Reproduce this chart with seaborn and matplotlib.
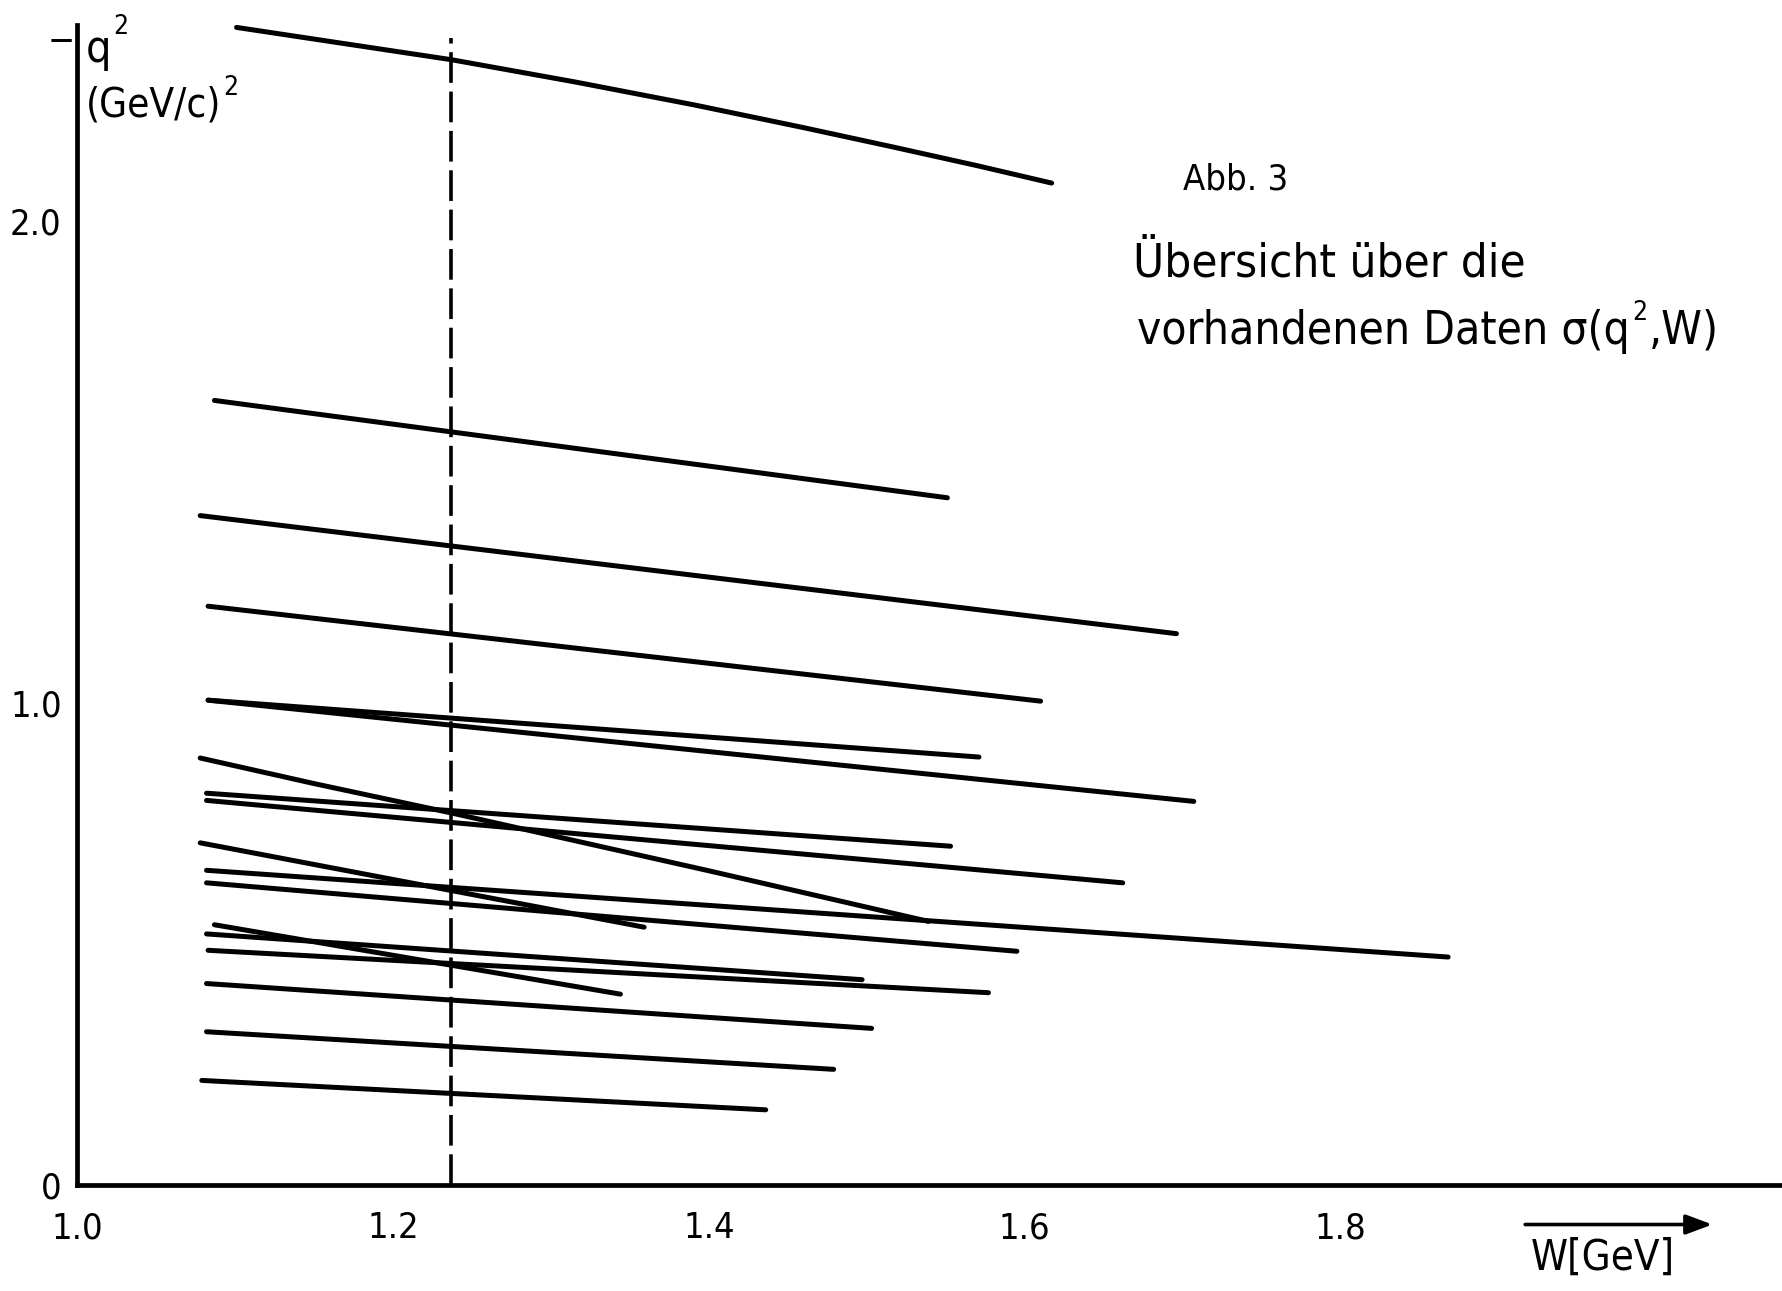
"""Abb. 3: Übersicht über die vorhandenen Daten sigma(q^2, W)"""
import numpy as np
import pandas as pd
import matplotlib
matplotlib.use("Agg")
import matplotlib.pyplot as plt
import seaborn as sns

# ---------------------------
# Daten
# ---------------------------
# gerade Messbereiche: W-Anfang/-Ende [GeV], -q^2 Anfang/Ende [(GeV/c)^2]
W_ANFANG = [1.087, 1.078, 1.083, 1.083, 1.083, 1.082, 1.082, 1.078,
            1.082, 1.082, 1.087, 1.082, 1.083, 1.082, 1.082, 1.079]
W_ENDE = [1.551, 1.696, 1.610, 1.571, 1.707, 1.553, 1.662, 1.359,
          1.868, 1.595, 1.344, 1.497, 1.577, 1.503, 1.479, 1.436]
Q2_ANFANG = [1.628, 1.389, 1.201, 1.006, 1.006, 0.813, 0.798, 0.710,
             0.653, 0.627, 0.540, 0.521, 0.487, 0.418, 0.318, 0.217]
Q2_ENDE = [1.426, 1.144, 1.004, 0.888, 0.796, 0.703, 0.627, 0.535,
           0.473, 0.485, 0.396, 0.426, 0.399, 0.325, 0.240, 0.156]

# gekrümmte Bereiche
W_OBEN = [1.101, 1.170, 1.237, 1.315, 1.391, 1.460, 1.515, 1.570, 1.617]
Q2_OBEN = [2.402, 2.368, 2.335, 2.289, 2.241, 2.194, 2.155, 2.115, 2.079]
W_STEIL = [1.078, 1.150, 1.237, 1.400, 1.539]
Q2_STEIL = [0.886, 0.833, 0.772, 0.652, 0.547]

# Delta-Resonanz (gestrichelt)
W_DELTA = 1.237
Q2_DELTA_MAX = 2.38

X_TICKS = [1.0, 1.2, 1.4, 1.6, 1.8, 2.0]
X_LABELS = ["1.0", "1.2", "1.4", "1.6", "1.8", ""]
Y_TICKS = [0.0, 1.0, 2.0]
Y_LABELS = ["0", "1.0", "2.0"]

# ---------------------------
# DataFrame aufbauen
# ---------------------------
filas = []
for i, (w0, w1, q0, q1) in enumerate(zip(W_ANFANG, W_ENDE, Q2_ANFANG, Q2_ENDE)):
    filas.append({"id": i, "W": w0, "q2": q0})
    filas.append({"id": i, "W": w1, "q2": q1})
for w, q in zip(W_OBEN, Q2_OBEN):
    filas.append({"id": 100, "W": w, "q2": q})
for w, q in zip(W_STEIL, Q2_STEIL):
    filas.append({"id": 101, "W": w, "q2": q})
df = pd.DataFrame(filas)

sns.set_style("white")
plt.rcParams['font.family'] = ['DejaVu Sans']
plt.rcParams['font.stretch'] = 'condensed'
plt.rcParams.update({"text.color": "black", "xtick.color": "black",
                     "ytick.color": "black", "axes.labelcolor": "black"})

W_PX, H_PX = 1783, 1291
fig = plt.figure(figsize=(W_PX / 100, H_PX / 100), dpi=100)
ax = fig.add_axes([77 / W_PX, 106 / H_PX, 1 - 77 / W_PX, 1160 / H_PX])

sns.lineplot(data=df, x="W", y="q2", units="id", estimator=None, sort=False,
             color="black", lw=3.6, ax=ax, legend=False)
ax.plot([W_DELTA, W_DELTA], [0, Q2_DELTA_MAX], color="black", lw=2.6,
        ls=(0, (8.5, 2.4)))

ax.set_xlim(1.0, 2.08)
ax.set_ylim(0, 2.407)
for s in ["top", "right"]:
    ax.spines[s].set_visible(False)
for s in ["left", "bottom"]:
    ax.spines[s].set_linewidth(3.4)
    ax.spines[s].set_color("black")

ax.set_xticks(X_TICKS)
ax.set_xticklabels(X_LABELS)
ax.set_yticks(Y_TICKS)
ax.set_yticklabels(Y_LABELS)
ax.tick_params(direction="out", width=2.6, labelsize=26)
ax.tick_params(axis="x", length=10, pad=9)
ax.tick_params(axis="y", length=8, pad=3)
ax.set_xlabel("")
ax.set_ylabel("")


def ftext(x, y, s, **kw):
    return fig.text(x / W_PX, 1 - y / H_PX, s, **kw)


def hoch(prev, s, size, dy=3):
    # Exponent rechts oben an den vorigen Text
    return ax.annotate(s, xy=(1, 1), xycoords=prev, xytext=(1.5, dy),
                       textcoords="offset points", ha="left", va="center",
                       fontsize=size, annotation_clip=False)


# Achsenbeschriftung -q^2
ftext(48, 52, "−", fontsize=26)
t_q = ftext(86, 62, "q", fontsize=32)
hoch(t_q, "2", 19, dy=1)
t_gev = ftext(86, 116, "(GeV/c)", fontsize=29)
hoch(t_gev, "2", 19, dy=-2)

# Titel
ftext(1183, 190, "Abb. 3", fontsize=26)
ftext(1133, 277, "Übersicht über die", fontsize=34)
t_v = ftext(1137, 344, "vorhandenen Daten σ(q", fontsize=33)
t_2 = hoch(t_v, "2", 19, dy=-3)
ax.annotate(",W)", xy=(1, 0), xycoords=(t_2, t_v), xytext=(1, 0),
            textcoords="offset points", ha="left", va="bottom", fontsize=33,
            annotation_clip=False)

# Pfeil W[GeV]
ax.annotate("", xy=(2.037, -0.082), xytext=(1.915, -0.082),
            arrowprops=dict(arrowstyle="-|>,head_length=1.6,head_width=0.6",
                            color="black", lw=2.6),
            annotation_clip=False)
ax.text(1.966, -0.108, "W[GeV]", fontsize=30, ha="center", va="top",
        clip_on=False)

plt.savefig("out.png", dpi=100)
plt.close()
